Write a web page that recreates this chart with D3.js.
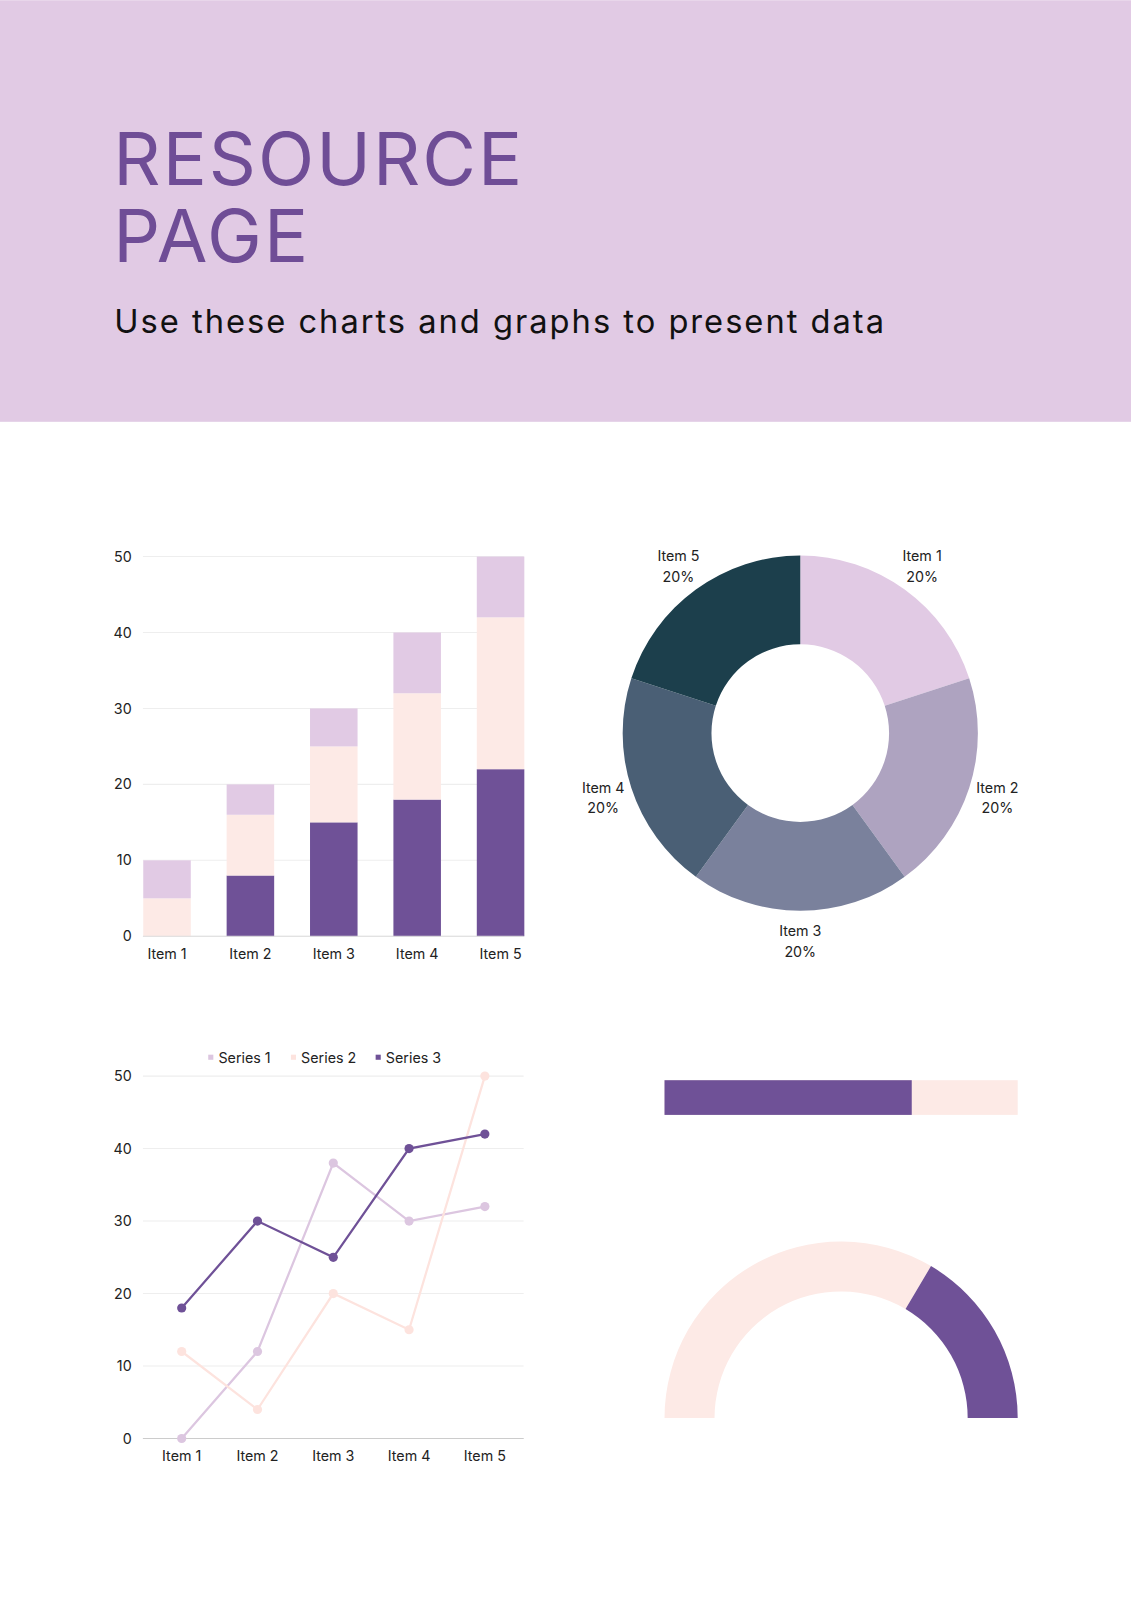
<!DOCTYPE html>
<html><head><meta charset="utf-8">
<script src="https://cdn.jsdelivr.net/npm/d3@7"></script>
<style>body{margin:0;background:#fff}svg{display:block;font-family:Inter,"Noto Sans",sans-serif}</style>
</head><body><div id="chart"></div>
<script>
// data
var barItems = ['Item 1','Item 2','Item 3','Item 4','Item 5'];
var barS3 = [0, 8, 15, 18, 22];
var barS2 = [5, 8, 10, 14, 20];
var barS1 = [5, 4, 5, 8, 8];
var yTicks = [0, 10, 20, 30, 40, 50];

var pieItems = ['Item 1','Item 2','Item 3','Item 4','Item 5'];
var pieValues = [20, 20, 20, 20, 20];

var lineItems = ['Item 1','Item 2','Item 3','Item 4','Item 5'];
var lineS1 = [0, 12, 38, 30, 32];
var lineS2 = [12, 4, 20, 15, 50];
var lineS3 = [18, 30, 25, 40, 42];
var seriesNames = ['Series 1','Series 2','Series 3'];

var progressValue = 70;
var gaugeValue = 33;

var lilac = '#e1cae4', pink = '#fdeae6', purple = '#6f5197';
var pieColors = ['#e1cae4','#aea3c0','#7a819c','#4a5f75','#1c3f4c'];

var svg = d3.select('#chart').append('svg')
    .attr('width', 1131).attr('height', 1600)
    .attr('viewBox', '0 0 1108 1567');

// header
svg.append('rect').attr('width', 1108).attr('height', 413).attr('fill', '#e1cae4');
svg.append('text').attr('x', 111).attr('y', 181).attr('font-size', 72).attr('fill', '#6f4d96')
    .attr('letter-spacing', 2).text('RESOURCE');
svg.append('text').attr('x', 111).attr('y', 256).attr('font-size', 72).attr('fill', '#6f4d96')
    .attr('letter-spacing', 2).text('PAGE');
svg.append('text').attr('x', 112).attr('y', 326).attr('font-size', 32).attr('fill', '#111')
    .attr('textLength', 754).attr('lengthAdjust', 'spacing')
    .text('Use these charts and graphs to present data');

function grid(g, y, x0, x1) {
    g.selectAll('.gl').data(yTicks).enter().append('line')
        .attr('x1', x0).attr('x2', x1).attr('y1', y).attr('y2', y)
        .attr('stroke', '#eeeeee');
    g.selectAll('.tl').data(yTicks).enter().append('text')
        .attr('x', x0 - 11).attr('y', function (d) { return y(d) + 5; })
        .attr('text-anchor', 'end').attr('font-size', 14).attr('fill', '#222').text(function (d) { return d; });
}

// stacked bar chart
var bg = svg.append('g');
var bx = d3.scaleBand().domain(barItems).range([124, 530]).paddingInner(0.43).paddingOuter(0.2);
var by = d3.scaleLinear().domain([0, 50]).range([917, 545]);
grid(bg, by, 140, 513);
var stackData = barItems.map(function (k, i) { return {k: k, a: barS3[i], b: barS2[i], c: barS1[i]}; });
var stack = d3.stack().keys(['a','b','c'])(stackData);
var stackColors = [purple, pink, lilac];
stack.forEach(function (layer, li) {
    bg.selectAll('.b' + li).data(layer).enter().append('rect')
        .attr('x', function (d) { return bx(d.data.k); })
        .attr('width', bx.bandwidth())
        .attr('y', function (d) { return by(d[1]); })
        .attr('height', function (d) { return by(d[0]) - by(d[1]); })
        .attr('fill', stackColors[li]);
});
bg.append('line').attr('x1', 140).attr('x2', 513).attr('y1', 917).attr('y2', 917).attr('stroke', '#ddd');
bg.selectAll('.xl').data(barItems).enter().append('text')
    .attr('x', function (d) { return bx(d) + bx.bandwidth() / 2; }).attr('y', 939)
    .attr('text-anchor', 'middle').attr('font-size', 14).attr('fill', '#222').text(function (d) { return d; });

// donut
var dg = svg.append('g').attr('transform', 'translate(784,718)');
var pie = d3.pie().sort(null)(pieValues);
var arc = d3.arc().innerRadius(87).outerRadius(174);
dg.selectAll('path').data(pie).enter().append('path').attr('d', arc)
    .attr('fill', function (d, i) { return pieColors[i]; });
var labelArc = d3.arc().innerRadius(203).outerRadius(203);
pie.forEach(function (d, i) {
    var c = labelArc.centroid(d);
    var t = dg.append('text').attr('text-anchor', 'middle').attr('font-size', 14).attr('fill', '#222');
    t.append('tspan').attr('x', c[0]).attr('y', c[1] - 4).text(pieItems[i]);
    t.append('tspan').attr('x', c[0]).attr('y', c[1] + 16).text(pieValues[i] + '%');
});

// line chart
var lg = svg.append('g');
var lx = d3.scalePoint().domain(lineItems).range([178, 475]);
var ly = d3.scaleLinear().domain([0, 50]).range([1409, 1054]);
grid(lg, ly, 140, 513);
lg.append('line').attr('x1', 140).attr('x2', 513).attr('y1', 1409).attr('y2', 1409).attr('stroke', '#ccc');
var lineColors = ['#dcc6e0', '#fde3de', purple];
var line = d3.line().x(function (d, i) { return lx(lineItems[i]); }).y(function (d) { return ly(d); });
[lineS1, lineS2, lineS3].forEach(function (s, si) {
    lg.append('path').attr('d', line(s)).attr('fill', 'none').attr('stroke', lineColors[si]).attr('stroke-width', 2.2);
    lg.selectAll('.p' + si).data(s).enter().append('circle')
        .attr('cx', function (d, i) { return lx(lineItems[i]); }).attr('cy', function (d) { return ly(d); })
        .attr('r', 4.5).attr('fill', lineColors[si]);
});
lg.selectAll('.xl').data(lineItems).enter().append('text')
    .attr('x', function (d) { return lx(d); }).attr('y', 1431)
    .attr('text-anchor', 'middle').attr('font-size', 14).attr('fill', '#222').text(function (d) { return d; });
var legX = [204, 285, 368];
seriesNames.forEach(function (n, i) {
    lg.append('rect').attr('x', legX[i]).attr('y', 1033).attr('width', 5).attr('height', 5).attr('fill', lineColors[i]);
    lg.append('text').attr('x', legX[i] + 10).attr('y', 1041).attr('font-size', 14).attr('fill', '#222').text(n);
});

// progress bar
var px = d3.scaleLinear().domain([0, 100]).range([651, 997]);
svg.append('rect').attr('x', px(0)).attr('y', 1058).attr('width', px(100) - px(0)).attr('height', 34).attr('fill', pink);
svg.append('rect').attr('x', px(0)).attr('y', 1058).attr('width', px(progressValue) - px(0)).attr('height', 34).attr('fill', purple);

// gauge
var gg = svg.append('g').attr('transform', 'translate(824,1389)');
var ga = d3.scaleLinear().domain([0, 100]).range([-Math.PI / 2, Math.PI / 2]);
var garc = d3.arc().innerRadius(124).outerRadius(173);
gg.append('path').attr('d', garc({startAngle: ga(0), endAngle: ga(100 - gaugeValue)})).attr('fill', pink);
gg.append('path').attr('d', garc({startAngle: ga(100 - gaugeValue), endAngle: ga(100)})).attr('fill', purple);
</script></body></html>
